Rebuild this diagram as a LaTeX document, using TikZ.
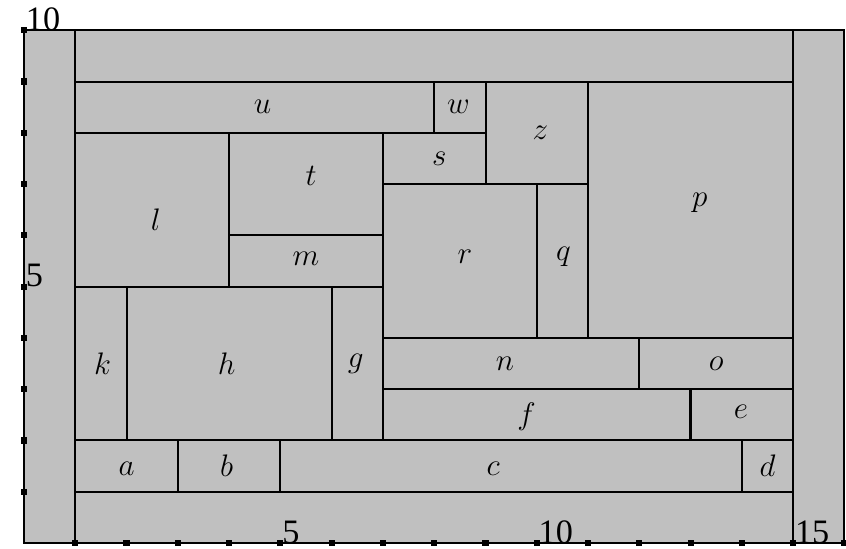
\documentclass[tikz,border=0pt]{standalone}
\usepackage{fontspec}
\newfontfamily\axfont{Liberation Serif}
\begin{document}
\begin{tikzpicture}[x=1cm,y=1cm,
  cell/.style={draw=black,fill=boxgrey,line width=1.1pt},
  lab/.style={font=\fontsize{18.5}{20}\selectfont,inner sep=0pt},
  axlab/.style={font=\axfont\fontsize{19}{21}\selectfont,inner sep=0pt,anchor=base west},
  tick/.style={fill=black,minimum size=0.12cm,inner sep=0pt,draw=none}]
\definecolor{boxgrey}{RGB}{192,192,192}
\useasboundingbox (-0.468,-0.0975) rectangle (16.03,10.59);
% outer frame pieces
\draw[cell] (0,0) rectangle (1,10);
\draw[cell] (15,0) rectangle (16,10);
\draw[cell] (1,9) rectangle (15,10);
\draw[cell] (1,0) rectangle (15,1);
% row 1
\draw[cell] (1,1) rectangle (3,2);
\draw[cell] (3,1) rectangle (5,2);
\draw[cell] (5,1) rectangle (14,2);
\draw[cell] (14,1) rectangle (15,2);
% left block
\draw[cell] (1,2) rectangle (2,5);
\draw[cell] (2,2) rectangle (6,5);
\draw[cell] (6,2) rectangle (7,5);
\draw[cell] (1,5) rectangle (4,8);
\draw[cell] (4,6) rectangle (7,8);
\draw[cell] (4,5) rectangle (7,6);
\draw[cell] (1,8) rectangle (8,9);
% right block
\draw[cell] (7,2) rectangle (13,3);
\draw[cell] (13,2) rectangle (15,3);
\draw[cell] (7,3) rectangle (12,4);
\draw[cell] (12,3) rectangle (15,4);
\draw[cell] (7,4) rectangle (10,7);
\draw[cell] (10,4) rectangle (11,7);
\draw[cell] (11,4) rectangle (15,9);
\draw[cell] (7,7) rectangle (9,8);
\draw[cell] (8,8) rectangle (9,9);
\draw[cell] (9,7) rectangle (11,9);
\draw[black,line width=1.8pt] (13,2) -- (13,3);
% labels
\node[lab] (la) at (2,1.45) {$a$};
\node[lab] (lb) at (3.95,1.5) {$b$};
\node[lab] (lc) at (9.15,1.44) {$c$};
\node[lab] (ld) at (14.5,1.5) {$d$};
\node[lab] (lk) at (1.53,3.5) {$k$};
\node[lab] (lh) at (3.95,3.5) {$h$};
\node[lab] (lg) at (6.47,3.5) {$g$};
\node[lab] (ll) at (2.57,6.3) {$l$};
\node[lab] (lt) at (5.6,7.16) {$t$};
\node[lab] (lm) at (5.5,5.55) {$m$};
\node[lab] (lu) at (4.65,8.5) {$u$};
\node[lab] (lf) at (9.8,2.46) {$f$};
\node[lab] (le) at (13.98,2.55) {$e$};
\node[lab] (ln) at (9.38,3.5) {$n$};
\node[lab] (lo) at (13.5,3.5) {$o$};
\node[lab] (lr) at (8.6,5.58) {$r$};
\node[lab] (lq) at (10.52,5.58) {$q$};
\node[lab] (lp) at (13.18,6.63) {$p$};
\node[lab] (ls) at (8.1,7.5) {$s$};
\node[lab] (lw) at (8.47,8.5) {$w$};
\node[lab] (lz) at (10.07,8) {$z$};
% axes
\draw[black,line width=1.1pt] (0,0) -- (16,0);
\draw[black,line width=1.1pt] (0,0) -- (0,10);
\foreach \i in {1,...,16} { \node[tick] (tx\i) at (\i,0) {}; }
\foreach \i in {1,...,10} { \node[tick] (ty\i) at (0,\i) {}; }
\node[axlab] (x5) at (5.03,0) {5};
\node[axlab] (x10) at (10.03,0) {10};
\node[axlab] (x15) at (15.03,0) {15};
\node[axlab] (y5) at (0.03,5) {5};
\node[axlab] (y10) at (0.03,10) {10};
\end{tikzpicture}
\end{document}
